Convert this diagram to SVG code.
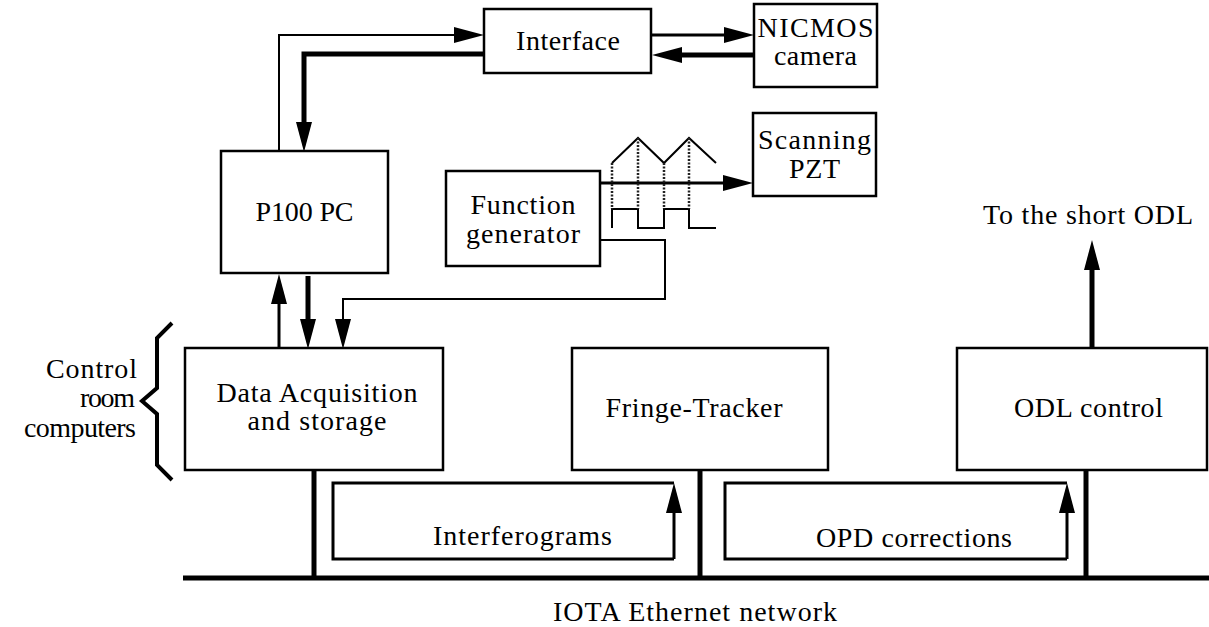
<svg xmlns="http://www.w3.org/2000/svg" width="1209" height="627" viewBox="0 0 1209 627">
  <defs>
    <style>
      .box { fill: #fff; stroke: #000; stroke-width: 2.5; }
      .lbl { font-family: "Liberation Serif", "Times New Roman", serif; font-size: 28px; fill: #000; text-anchor: middle; }
      .side { text-anchor: end; }
      .w1 { fill: none; stroke: #000; stroke-width: 2; }
      .w2 { fill: none; stroke: #000; stroke-width: 3; }
      .w3 { fill: none; stroke: #000; stroke-width: 5; }
      .dots { fill: none; stroke: #222; stroke-width: 2.5; stroke-dasharray: 2 1.5; }
    </style>
    <marker id="ah" markerUnits="userSpaceOnUse" markerWidth="32" markerHeight="18" refX="1" refY="8" orient="auto">
      <path d="M0,0 L30,8 L0,16 z" fill="#000"/>
    </marker>
  </defs>

  <rect width="1209" height="627" fill="#fff"/>

  <!-- connectors -->
  <g id="connectors">
    <!-- P100 PC to Interface -->
    <path class="w1" d="M279,151 V35 H455" marker-end="url(#ah)"/>
    <!-- Interface to P100 PC -->
    <path class="w3" d="M484,54 H304 V123" marker-end="url(#ah)"/>
    <!-- Interface / NICMOS camera -->
    <path class="w2" d="M651,35 H725" marker-end="url(#ah)"/>
    <path class="w3" d="M754,55 H681" marker-end="url(#ah)"/>
    <!-- Function generator to Scanning PZT -->
    <path class="w2" d="M600,183 H724" marker-end="url(#ah)"/>
    <!-- Function generator to Data Acquisition -->
    <path class="w1" d="M600,240 H665 V299 H343 V320" marker-end="url(#ah)"/>
    <!-- P100 PC / Data Acquisition -->
    <path class="w3" d="M308,276 V320" marker-end="url(#ah)"/>
    <path class="w2" d="M279,349 V303" marker-end="url(#ah)"/>
    <!-- ODL control to the short ODL -->
    <path class="w3" d="M1092,348 V269" marker-end="url(#ah)"/>

    <!-- Ethernet bus and drops -->
    <path class="w3" d="M183,578 H1209"/>
    <path class="w3" d="M314,470 V578"/>
    <path class="w3" d="M700,470 V578"/>
    <path class="w3" d="M1086,470 V578"/>

    <!-- Interferograms loop -->
    <path class="w2" d="M674,559 H333 V483 H674"/>
    <path class="w2" d="M674,559 V512" marker-end="url(#ah)"/>
    <!-- OPD corrections loop -->
    <path class="w2" d="M1067,559 H725 V483 H1067"/>
    <path class="w2" d="M1067,559 V512" marker-end="url(#ah)"/>

    <!-- waveforms -->
    <polyline class="w1" points="612,163 638,138 664,163 689,138 716,163"/>
    <polyline class="w1" points="612,228 612,209 638,209 638,228 664,228 664,209 689,209 689,228 716,228"/>
    <path class="dots" d="M612,163 V209 M638,138 V209 M664,163 V209 M689,138 V209"/>
  </g>

  <g id="interface">
    <rect class="box" x="484" y="9" width="167" height="64"/>
    <text class="lbl" x="568" y="50" textLength="104" lengthAdjust="spacing">Interface</text>
  </g>

  <g id="nicmos">
    <rect class="box" x="754" y="4" width="123" height="83"/>
    <text class="lbl" x="815.5" y="37" textLength="116" lengthAdjust="spacing">NICMOS</text>
    <text class="lbl" x="815.5" y="65" textLength="83" lengthAdjust="spacing">camera</text>
  </g>

  <g id="p100">
    <rect class="box" x="221" y="151" width="167" height="122"/>
    <text class="lbl" x="304.5" y="221" textLength="98" lengthAdjust="spacing">P100 PC</text>
  </g>

  <g id="pzt">
    <rect class="box" x="753" y="113" width="123" height="83"/>
    <text class="lbl" x="814.5" y="149" textLength="113" lengthAdjust="spacing">Scanning</text>
    <text class="lbl" x="814.5" y="178" textLength="51" lengthAdjust="spacing">PZT</text>
  </g>

  <g id="function-generator">
    <rect class="box" x="446" y="171" width="154" height="95"/>
    <text class="lbl" x="523" y="214" textLength="105" lengthAdjust="spacing">Function</text>
    <text class="lbl" x="523" y="243" textLength="114" lengthAdjust="spacing">generator</text>
  </g>

  <g id="data-acquisition">
    <rect class="box" x="185" y="348" width="258" height="122"/>
    <text class="lbl" x="317" y="402" textLength="201" lengthAdjust="spacing">Data Acquisition</text>
    <text class="lbl" x="317" y="430" textLength="139" lengthAdjust="spacing">and storage</text>
  </g>

  <g id="fringe-tracker">
    <rect class="box" x="572" y="348" width="256" height="122"/>
    <text class="lbl" x="694" y="417" textLength="177" lengthAdjust="spacing">Fringe-Tracker</text>
  </g>

  <g id="odl-control">
    <rect class="box" x="957" y="348" width="250" height="122"/>
    <text class="lbl" x="1088.5" y="417" textLength="149" lengthAdjust="spacing">ODL control</text>
  </g>

  <g id="short-odl">
    <text class="lbl" x="1088" y="224" textLength="210" lengthAdjust="spacing">To the short ODL</text>
  </g>

  <g id="control-room">
    <polyline points="172,323 157,338 157,388 142,401 157,414 157,465 172,480" fill="none" stroke="#000" stroke-width="4"/>
    <text class="lbl side" x="137" y="378" textLength="91" lengthAdjust="spacing">Control</text>
    <text class="lbl side" x="135" y="407" textLength="55" lengthAdjust="spacing">room</text>
    <text class="lbl side" x="136" y="437" textLength="112" lengthAdjust="spacing">computers</text>
  </g>

  <g id="bus-labels">
    <text class="lbl" x="522.5" y="545" textLength="179" lengthAdjust="spacing">Interferograms</text>
    <text class="lbl" x="914" y="547" textLength="196" lengthAdjust="spacing">OPD corrections</text>
    <text class="lbl" x="695" y="621" textLength="284" lengthAdjust="spacing">IOTA Ethernet network</text>
  </g>
</svg>
